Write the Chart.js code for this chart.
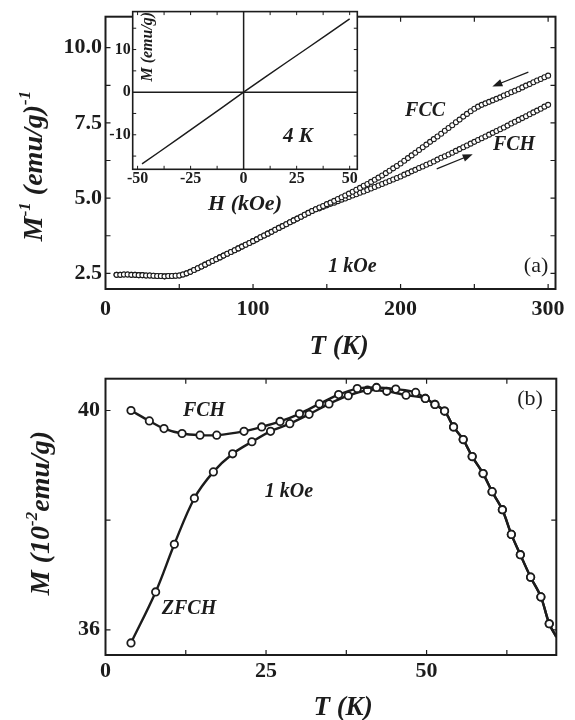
<!DOCTYPE html>
<html>
<head>
<meta charset="utf-8">
<script src="https://cdn.jsdelivr.net/npm/chart.js@4"></script>
<style>
  body { margin: 0; background: #fff; }
  .wrap { position: relative; width: 575px; height: 720px; background: #fff; }
  .wrap canvas { position: absolute; }
</style>
</head>
<body>
<div class="wrap">
  <canvas id="chartA" width="575" height="360" style="left:0;top:0"></canvas>
  <canvas id="chartInset" width="264" height="220" style="left:106px;top:0"></canvas>
  <canvas id="chartB" width="575" height="360" style="left:0;top:360px"></canvas>
</div>
<script>
// ---- panel (a): inverse magnetisation vs temperature, 1 kOe ----
const aT = [7.5, 10, 12.5, 15, 17.5, 20, 22.5, 25, 27.5, 30, 32.5, 35, 37.5, 40, 42.5, 45, 47.5, 50,
  52.5, 55, 57.5, 60, 62.5, 65, 67.5, 70, 72.5, 75, 77.5, 80, 82.5, 85, 87.5, 90, 92.5, 95, 97.5, 100,
  102.5, 105, 107.5, 110, 112.5, 115, 117.5, 120, 122.5, 125, 127.5, 130, 132.5, 135, 137.5, 140, 142.5,
  145, 147.5, 150, 152.5, 155, 157.5, 160, 162.5, 165, 167.5, 170, 172.5, 175, 177.5, 180, 182.5, 185,
  187.5, 190, 192.5, 195, 197.5, 200, 202.5, 205, 207.5, 210, 212.5, 215, 217.5, 220, 222.5, 225, 227.5,
  230, 232.5, 235, 237.5, 240, 242.5, 245, 247.5, 250, 252.5, 255, 257.5, 260, 262.5, 265, 267.5, 270,
  272.5, 275, 277.5, 280, 282.5, 285, 287.5, 290, 292.5, 295, 297.5, 300];
// both runs coincide up to ~142 K
const aShared = [2.45, 2.45, 2.46, 2.46, 2.45, 2.45, 2.44, 2.44, 2.43, 2.43, 2.42, 2.41, 2.41, 2.40, 2.41, 2.41, 2.42, 2.43,
  2.46, 2.50, 2.55, 2.61, 2.67, 2.73, 2.79, 2.85, 2.91, 2.97, 3.03, 3.09, 3.15, 3.21, 3.27, 3.33, 3.39, 3.45, 3.51, 3.57,
  3.63, 3.70, 3.76, 3.82, 3.88, 3.95, 4.01, 4.07, 4.13, 4.20, 4.26, 4.32, 4.38, 4.45, 4.51, 4.57, 4.63];
const aFCC = aShared.concat([4.69, 4.74, 4.80, 4.85, 4.91, 4.97, 5.03, 5.09, 5.15, 5.21,
  5.28, 5.34, 5.41, 5.47, 5.54, 5.61, 5.68, 5.75, 5.83, 5.91,
  5.99, 6.07, 6.15, 6.24, 6.33, 6.42, 6.51, 6.60, 6.69, 6.78,
  6.87, 6.96, 7.05, 7.14, 7.24, 7.33, 7.42, 7.52, 7.61, 7.71,
  7.80, 7.89, 7.97, 8.04, 8.10, 8.15, 8.20, 8.25, 8.30, 8.35,
  8.41, 8.46, 8.52, 8.57, 8.62, 8.68, 8.74, 8.79, 8.85, 8.91,
  8.96, 9.02, 9.07]);
const aFCH = aShared.concat([4.66, 4.71, 4.76, 4.81, 4.85, 4.90, 4.95, 4.99, 5.04, 5.09,
  5.13, 5.18, 5.22, 5.27, 5.32, 5.37, 5.42, 5.47, 5.52, 5.57,
  5.62, 5.67, 5.72, 5.78, 5.83, 5.89, 5.94, 6.00, 6.05, 6.11,
  6.16, 6.22, 6.28, 6.34, 6.39, 6.45, 6.51, 6.57, 6.63, 6.69,
  6.75, 6.81, 6.87, 6.93, 6.99, 7.05, 7.11, 7.17, 7.23, 7.29,
  7.35, 7.41, 7.48, 7.54, 7.60, 7.66, 7.72, 7.79, 7.85, 7.91,
  7.97, 8.04, 8.10]);
const aXLabels = [0, 100, 200, 300];
const aYLabels = [2.5, 5.0, 7.5, 10.0];

// ---- inset: M(H) at 4 K ----
const insetH = [-47.9, -40, -30, -20, -10, 0, 10, 20, 30, 40, 50];
const insetM = [-16.8, -14.1, -10.6, -7.1, -3.55, 0, 3.45, 6.9, 10.3, 13.75, 17.2];
const insetXLabels = [-50, -25, 0, 25, 50];
const insetYLabels = [-10, 0, 10];

// ---- panel (b): M vs T, 1 kOe ----
const bTailT = [49.8, 51.3, 52.8, 54.2, 55.7, 57.1, 58.8, 60.2, 61.8, 63.2, 64.6, 66.2, 67.8, 69.1, 70.2];
const bTailM = [40.22, 40.11, 39.99, 39.70, 39.47, 39.16, 38.85, 38.52, 38.19, 37.74, 37.37, 36.96, 36.60, 36.11, 35.87];
const bFchT = [3.97, 6.83, 9.11, 11.92, 14.72, 17.32, 21.57, 24.33, 27.18, 30.2, 33.3, 36.3, 39.2, 42.2, 45.2, 48.3].concat(bTailT);
const bFchM = [40.00, 39.81, 39.67, 39.58, 39.55, 39.55, 39.62, 39.70, 39.80, 39.94, 40.12, 40.29, 40.40, 40.42, 40.39, 40.33].concat(bTailM);
const bZfchT = [3.97, 7.81, 10.72, 13.84, 16.8, 19.8, 22.8, 25.7, 28.7, 31.7, 34.8, 37.8, 40.8, 43.8, 46.8].concat(bTailT);
const bZfchM = [35.76, 36.69, 37.56, 38.40, 38.88, 39.21, 39.43, 39.62, 39.76, 39.93, 40.12, 40.27, 40.37, 40.35, 40.28].concat(bTailM);
const bXLabels = [0, 25, 50];
const bYLabels = [36, 40];

const serif = '"Liberation Serif", "Times New Roman", Times, serif';
const ink = '#1c1c1c';

function pairs(xs, ys) {
    return xs.map((v, i) => ({ x: v, y: ys[i] }));
}

// text with raised superscripts, centred on (x, y) baseline
function drawRich(ctx, parts, x, y, size, rotate) {
    const fontFor = p => `italic bold ${p.sup ? Math.round(size * 0.62) : size}px ${serif}`;
    ctx.save();
    ctx.translate(x, y);
    if (rotate) ctx.rotate(-Math.PI / 2);
    let total = 0;
    parts.forEach(p => { ctx.font = fontFor(p); total += ctx.measureText(p.t).width; });
    let cx = -total / 2;
    ctx.textAlign = 'left';
    ctx.textBaseline = 'alphabetic';
    parts.forEach(p => {
        ctx.font = fontFor(p);
        ctx.fillText(p.t, cx, p.sup ? -size * 0.42 : 0);
        cx += ctx.measureText(p.t).width;
    });
    ctx.restore();
}

// box, inward ticks, zero lines, arrows and labels
const framePlugin = {
    id: 'frame',
    beforeDraw(chart, args, opts) {
        if (!opts.fill) return;
        const a = chart.chartArea;
        chart.ctx.save();
        chart.ctx.fillStyle = opts.fill;
        chart.ctx.fillRect(a.left, a.top, a.right - a.left, a.bottom - a.top);
        chart.ctx.restore();
    },
    afterDraw(chart, args, opts) {
        const { ctx, chartArea: a } = chart;
        const x = chart.scales.x, y = chart.scales.y;
        ctx.save();
        ctx.strokeStyle = ink;
        ctx.fillStyle = ink;

        if (opts.zeroLines) {
            const px = x.getPixelForValue(0), py = y.getPixelForValue(0);
            ctx.lineWidth = opts.zeroWidth;
            ctx.beginPath();
            ctx.moveTo(px, a.top); ctx.lineTo(px, a.bottom);
            ctx.moveTo(a.left, py); ctx.lineTo(a.right, py);
            ctx.stroke();
        }

        ctx.lineWidth = opts.tickWidth;
        ctx.beginPath();
        opts.xTicks.forEach(v => {
            const px = x.getPixelForValue(v);
            ctx.moveTo(px, a.bottom); ctx.lineTo(px, a.bottom - opts.tickLen);
            ctx.moveTo(px, a.top); ctx.lineTo(px, a.top + opts.tickLen);
        });
        opts.yTicks.forEach(v => {
            const py = y.getPixelForValue(v);
            ctx.moveTo(a.left, py); ctx.lineTo(a.left + opts.tickLen, py);
            ctx.moveTo(a.right, py); ctx.lineTo(a.right - opts.tickLen, py);
        });
        ctx.stroke();

        ctx.lineWidth = opts.lineWidth;
        ctx.strokeRect(a.left, a.top, a.right - a.left, a.bottom - a.top);

        (opts.arrows || []).forEach(ar => {
            const x1 = x.getPixelForValue(ar.x1), y1 = y.getPixelForValue(ar.y1);
            const x2 = x.getPixelForValue(ar.x2), y2 = y.getPixelForValue(ar.y2);
            const ang = Math.atan2(y2 - y1, x2 - x1);
            ctx.lineWidth = 1.3;
            ctx.beginPath();
            ctx.moveTo(x1, y1);
            ctx.lineTo(x2 - 6 * Math.cos(ang), y2 - 6 * Math.sin(ang));
            ctx.stroke();
            ctx.beginPath();
            ctx.moveTo(x2, y2);
            ctx.lineTo(x2 - 10 * Math.cos(ang) + 3.8 * Math.sin(ang), y2 - 10 * Math.sin(ang) - 3.8 * Math.cos(ang));
            ctx.lineTo(x2 - 10 * Math.cos(ang) - 3.8 * Math.sin(ang), y2 - 10 * Math.sin(ang) + 3.8 * Math.cos(ang));
            ctx.closePath();
            ctx.fill();
        });

        ctx.textAlign = 'center';
        ctx.textBaseline = 'middle';
        (opts.notes || []).forEach(n => {
            ctx.font = `${n.plain ? '' : 'italic bold '}${n.size}px ${serif}`;
            ctx.fillText(n.text, x.getPixelForValue(n.x), y.getPixelForValue(n.y));
        });

        (opts.titles || []).forEach(t => drawRich(ctx, t.parts, t.x, t.y, t.size, t.rotate));
        ctx.restore();
    }
};

function axis(min, max, labels, fmt, size, pad, fitKey, fitVal) {
    return {
        type: 'linear',
        min: min,
        max: max,
        grid: { display: false, drawTicks: false },
        border: { display: false },
        afterBuildTicks: s => { s.ticks = labels.map(v => ({ value: v })); },
        afterFit: s => { s[fitKey] = fitVal; },
        ticks: {
            autoSkip: false,
            maxRotation: 0,
            padding: pad,
            color: ink,
            font: { family: serif, size: size, weight: 'bold' },
            callback: fmt
        }
    };
}

const basePlugins = { legend: { display: false }, tooltip: { enabled: false } };

// panel (a)
new Chart(document.getElementById('chartA'), {
    type: 'scatter',
    data: {
        datasets: [{
            label: 'FCC',
            data: pairs(aT, aFCC),
            pointRadius: 2.5,
            pointBorderWidth: 1.1,
            pointBackgroundColor: '#fff',
            pointBorderColor: ink
        }, {
            label: 'FCH',
            data: pairs(aT, aFCH),
            pointRadius: 2.5,
            pointBorderWidth: 1.1,
            pointBackgroundColor: '#fff',
            pointBorderColor: ink
        }]
    },
    options: {
        responsive: false,
        animation: false,
        devicePixelRatio: 1,
        layout: { padding: { left: 0, top: 8, right: 19.5, bottom: 0 } },
        scales: {
            x: axis(0, 305, aXLabels, v => String(v), 22, 7, 'height', 71),
            y: axis(1.98, 11.03, aYLabels, v => v.toFixed(1), 22, 3.5, 'width', 105.5)
        },
        plugins: Object.assign({}, basePlugins, {
            frame: {
                xTicks: [50, 100, 150, 200, 250, 300],
                yTicks: [2.5, 3.75, 5, 6.25, 7.5, 8.75, 10],
                tickLen: 5, tickWidth: 1.2, lineWidth: 2,
                arrows: [
                    { x1: 286.6, y1: 9.19, x2: 262.2, y2: 8.71 },
                    { x1: 224.5, y1: 5.97, x2: 248.9, y2: 6.46 }
                ],
                notes: [
                    { text: 'FCC', x: 216.6, y: 7.91, size: 20 },
                    { text: 'FCH', x: 276.9, y: 6.78, size: 20 },
                    { text: '1 kOe', x: 167.4, y: 2.72, size: 20 },
                    { text: '(a)', x: 291.8, y: 2.75, size: 22, plain: true }
                ],
                titles: [
                    { parts: [{ t: 'M' }, { t: '-1', sup: true }, { t: ' (emu/g)' }, { t: '-1', sup: true }], x: 42, y: 166, size: 28, rotate: true },
                    { parts: [{ t: 'T (K)' }], x: 339, y: 354, size: 27 }
                ]
            }
        })
    },
    plugins: [framePlugin]
});

// inset of panel (a)
new Chart(document.getElementById('chartInset'), {
    type: 'line',
    data: {
        datasets: [{
            label: 'M(H) 4 K',
            data: pairs(insetH, insetM),
            borderColor: ink,
            borderWidth: 1.5,
            pointRadius: 0,
            tension: 0
        }]
    },
    options: {
        responsive: false,
        animation: false,
        devicePixelRatio: 1,
        layout: { padding: { left: 0, top: 7.3, right: 12.7, bottom: 0 } },
        scales: {
            x: axis(-52.3, 53.6, insetXLabels, v => String(v), 16, 0, 'height', 50.7),
            y: axis(-18.1, 18.9, insetYLabels, v => String(v), 16, 2, 'width', 26.7)
        },
        plugins: Object.assign({}, basePlugins, {
            frame: {
                fill: '#fff',
                zeroLines: true, zeroWidth: 1.5,
                xTicks: [-50, -37.5, -25, -12.5, 12.5, 25, 37.5, 50],
                yTicks: [-15, -10, -5, 5, 10, 15],
                tickLen: 3.5, tickWidth: 1, lineWidth: 1.6,
                notes: [
                    { text: '4 K', x: 25.6, y: -10.5, size: 21 }
                ],
                titles: [
                    { parts: [{ t: 'M (emu/g)' }], x: 46, y: 46.7, size: 16, rotate: true },
                    { parts: [{ t: 'H (kOe)' }], x: 139, y: 209.5, size: 22 }
                ]
            }
        })
    },
    plugins: [framePlugin]
});

// panel (b)
const bPointRadius = c => (c.dataIndex === c.dataset.data.length - 1 ? 0 : 3.7);
new Chart(document.getElementById('chartB'), {
    type: 'line',
    data: {
        datasets: [{
            label: 'FCH',
            data: pairs(bFchT, bFchM),
            borderColor: ink,
            borderWidth: 2.4,
            tension: 0.35,
            pointRadius: bPointRadius,
            pointBorderWidth: 1.8,
            pointBackgroundColor: '#fff',
            pointBorderColor: ink
        }, {
            label: 'ZFCH',
            data: pairs(bZfchT, bZfchM),
            borderColor: ink,
            borderWidth: 2.4,
            tension: 0.35,
            pointRadius: bPointRadius,
            pointBorderWidth: 1.8,
            pointBackgroundColor: '#fff',
            pointBorderColor: ink
        }]
    },
    options: {
        responsive: false,
        animation: false,
        devicePixelRatio: 1,
        layout: { padding: { left: 0, top: 14.4, right: 18.7, bottom: 0 } },
        scales: {
            x: axis(0, 70.2, bXLabels, v => String(v), 22, 3.5, 'height', 65),
            y: axis(35.54, 40.58, bYLabels, v => String(v), 22, 5.5, 'width', 105.5)
        },
        plugins: Object.assign({}, basePlugins, {
            frame: {
                xTicks: [12.5, 25, 37.5, 50, 62.5],
                yTicks: [36, 38, 40],
                tickLen: 5, tickWidth: 1.2, lineWidth: 2,
                notes: [
                    { text: 'FCH', x: 15.34, y: 40.0, size: 20 },
                    { text: '1 kOe', x: 28.57, y: 38.52, size: 20 },
                    { text: 'ZFCH', x: 13.0, y: 36.38, size: 20 },
                    { text: '(b)', x: 66.1, y: 40.21, size: 22, plain: true }
                ],
                titles: [
                    { parts: [{ t: 'M (10' }, { t: '-2', sup: true }, { t: 'emu/g)' }], x: 49, y: 153, size: 28, rotate: true },
                    { parts: [{ t: 'T (K)' }], x: 343, y: 355, size: 27 }
                ]
            }
        })
    },
    plugins: [framePlugin]
});
</script>
</body>
</html>
